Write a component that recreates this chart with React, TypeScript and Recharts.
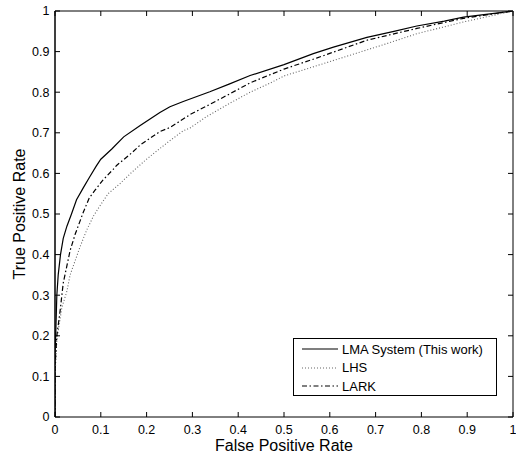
import React from 'react';
import { LineChart, Line, XAxis, YAxis, Legend, ReferenceLine } from 'recharts';

const lmaFpr = [0, 0, 0.002, 0.004, 0.007, 0.012, 0.018, 0.026, 0.036, 0.047, 0.062, 0.075, 0.09, 0.1, 0.124, 0.15, 0.186, 0.229, 0.251, 0.28, 0.338, 0.38, 0.426, 0.5, 0.564, 0.608, 0.681, 0.74, 0.79, 0.85, 0.892, 0.95, 1];
const lmaTpr = [0, 0.15, 0.22, 0.3, 0.35, 0.4, 0.44, 0.47, 0.5, 0.535, 0.565, 0.59, 0.618, 0.635, 0.66, 0.69, 0.718, 0.75, 0.764, 0.777, 0.801, 0.82, 0.841, 0.868, 0.895, 0.911, 0.935, 0.95, 0.963, 0.975, 0.985, 0.993, 1];

const lhsFpr = [0, 0, 0.004, 0.015, 0.026, 0.033, 0.055, 0.069, 0.084, 0.098, 0.116, 0.142, 0.165, 0.2, 0.222, 0.25, 0.28, 0.295, 0.331, 0.382, 0.426, 0.469, 0.5, 0.571, 0.644, 0.717, 0.79, 0.892, 1];
const lhsTpr = [0, 0.1, 0.19, 0.27, 0.31, 0.35, 0.42, 0.46, 0.495, 0.52, 0.55, 0.575, 0.6, 0.635, 0.655, 0.68, 0.705, 0.712, 0.74, 0.773, 0.8, 0.822, 0.84, 0.865, 0.891, 0.917, 0.944, 0.973, 1];

const larkFpr = [0, 0, 0.004, 0.011, 0.018, 0.033, 0.044, 0.062, 0.075, 0.087, 0.105, 0.127, 0.135, 0.167, 0.186, 0.229, 0.251, 0.295, 0.338, 0.38, 0.426, 0.5, 0.571, 0.681, 0.79, 0.892, 1];
const larkTpr = [0, 0.12, 0.2, 0.26, 0.33, 0.41, 0.45, 0.505, 0.54, 0.558, 0.584, 0.61, 0.62, 0.65, 0.67, 0.703, 0.713, 0.745, 0.77, 0.795, 0.823, 0.857, 0.884, 0.928, 0.957, 0.982, 1];

const xTicks = [0, 0.1, 0.2, 0.3, 0.4, 0.5, 0.6, 0.7, 0.8, 0.9, 1];
const yTicks = [0, 0.1, 0.2, 0.3, 0.4, 0.5, 0.6, 0.7, 0.8, 0.9, 1];

const seriesNames = ['LMA System (This work)', 'LHS', 'LARK'];

const toPoints = (fpr: number[], tpr: number[]) => fpr.map((f, i) => ({ fpr: f, tpr: tpr[i] }));

const series = [
  { name: seriesNames[0], data: toPoints(lmaFpr, lmaTpr), stroke: '#000', dash: undefined as string | undefined, width: 1.2 },
  { name: seriesNames[1], data: toPoints(lhsFpr, lhsTpr), stroke: '#666', dash: '1 2', width: 1.1 },
  { name: seriesNames[2], data: toPoints(larkFpr, larkTpr), stroke: '#000', dash: '5 2.5 1.5 2.5', width: 1.2 },
];

const FONT = 'Liberation Sans, Arial, Helvetica, sans-serif';
const TICK_FONT = 12.5;
const PLOT_W = 458;
const PLOT_H = 406;
const TICK_LEN = 5;
const X_MARGIN = 8.5;
const Y_MARGIN = 5.5;

const fmt = (v: number) => String(v);

const XTick = (props: any) => {
  const { x, y, payload } = props;
  const axisY = y - X_MARGIN;
  return (
    <g>
      <line x1={x} x2={x} y1={axisY} y2={axisY - TICK_LEN} stroke="#000" strokeWidth={1} />
      <line x1={x} x2={x} y1={axisY - PLOT_H} y2={axisY - PLOT_H + TICK_LEN} stroke="#000" strokeWidth={1} />
      <text x={x} y={y} dy="0.71em" textAnchor="middle" fontSize={TICK_FONT} fill="#000">{fmt(payload.value)}</text>
    </g>
  );
};

const YTick = (props: any) => {
  const { x, y, payload } = props;
  const axisX = x + Y_MARGIN;
  return (
    <g>
      <line x1={axisX} x2={axisX + TICK_LEN} y1={y} y2={y} stroke="#000" strokeWidth={1} />
      <line x1={axisX + PLOT_W} x2={axisX + PLOT_W - TICK_LEN} y1={y} y2={y} stroke="#000" strokeWidth={1} />
      <text x={x} y={y} dy="0.355em" textAnchor="end" fontSize={TICK_FONT} fill="#000">{fmt(payload.value)}</text>
    </g>
  );
};

const LegendBox = () => (
  <div style={{ border: '1px solid #000', background: '#fff', width: 202, height: 55, paddingTop: 1, fontFamily: FONT }}>
    {series.map((s) => (
      <div key={s.name} style={{ display: 'flex', alignItems: 'center', height: 18.5 }}>
        <svg width={48} height={10} style={{ display: 'block' }}>
          <line x1={8} x2={44} y1={5} y2={5} stroke={s.stroke} strokeWidth={s.width} strokeDasharray={s.dash} />
        </svg>
        <span style={{ fontSize: 13, color: '#000', lineHeight: '13px', whiteSpace: 'nowrap' }}>{s.name}</span>
      </div>
    ))}
  </div>
);

export default function App() {
  return (
    <div style={{ position: 'absolute', left: 0, top: 0, fontFamily: FONT }}>
      <LineChart width={516} height={460} data={series[0].data} margin={{ top: 11, right: 3, left: 0, bottom: 0 }}>
        <XAxis
          xAxisId="bottom"
          type="number"
          dataKey="fpr"
          domain={[0, 1]}
          ticks={xTicks}
          allowDataOverflow
          interval={0}
          height={43}
          tickSize={0}
          tickMargin={X_MARGIN}
          tick={<XTick />}
          stroke="#000"
          label={{ value: 'False Positive Rate', position: 'insideBottom', offset: 9, fill: '#000', fontSize: 16 }}
        />
        <YAxis
          yAxisId="left"
          type="number"
          dataKey="tpr"
          domain={[0, 1]}
          ticks={yTicks}
          allowDataOverflow
          interval={0}
          width={55}
          tickSize={0}
          tickMargin={Y_MARGIN}
          tick={<YTick />}
          stroke="#000"
          label={{ value: 'True Positive Rate', angle: -90, position: 'insideLeft', offset: 19, fill: '#000', fontSize: 16, style: { textAnchor: 'middle' } }}
        />
        <ReferenceLine xAxisId="bottom" yAxisId="left" y={1} stroke="#000" strokeWidth={1} ifOverflow="visible" />
        <ReferenceLine xAxisId="bottom" yAxisId="left" x={1} stroke="#000" strokeWidth={1} ifOverflow="visible" />
        <ReferenceLine xAxisId="bottom" yAxisId="left" x={0} stroke="#000" strokeWidth={1} ifOverflow="visible" />
        {series.map((s) => (
          <Line
            key={s.name}
            xAxisId="bottom"
            yAxisId="left"
            data={s.data}
            dataKey="tpr"
            name={s.name}
            type="linear"
            stroke={s.stroke}
            strokeWidth={s.width}
            strokeDasharray={s.dash}
            dot={false}
            activeDot={false}
            isAnimationActive={false}
          />
        ))}
        <Legend
          layout="vertical"
          align="center"
          verticalAlign="middle"
          content={<LegendBox />}
          wrapperStyle={{ position: 'absolute', left: 293, top: 338, width: 204, height: 58 }}
        />
      </LineChart>
    </div>
  );
}
